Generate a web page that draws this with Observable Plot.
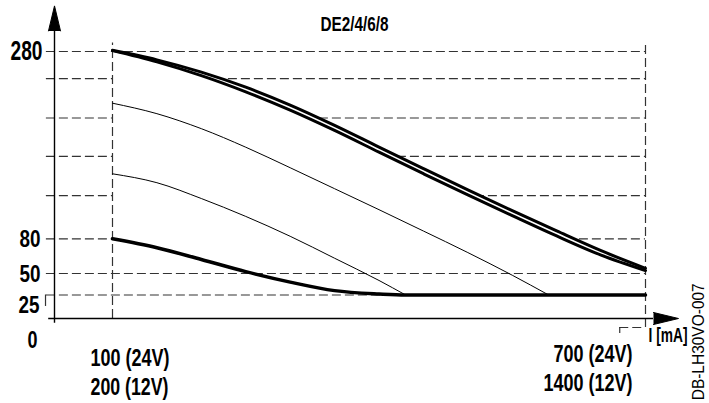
<!DOCTYPE html>
<html><head><meta charset="utf-8">
<script src="https://cdn.jsdelivr.net/npm/d3@7"></script>
<script src="https://cdn.jsdelivr.net/npm/@observablehq/plot@0.6"></script>
<style>body{margin:0;background:#fff}</style>
</head><body><div id="chart"></div>
<script>
const title = "DE2/4/6/8";
const sideNote = "DB-LH30VO-007";
const xAxisLabel = "I [mA]";
const originLabel = "0";
// current (mA, 24V) and curve values
const currentMA = [100,150,200,250,300,350,400,450,500,550,600,650,700];
const topUpper = [281.3,271.1,258,241.9,222.8,201.1,177.9,154.9,132.2,110.1,88.4,69.7,54.5];
const topLower = [280.9,268.9,254.2,236.9,217.4,195.7,172.5,149.5,126.8,104.7,83.0,65.9,52.5];
const midCurrent = [100,150,200,250,300,350,400,450,500,550,591];
const midValues = [224.8,213.6,197.6,177.8,155.9,133.5,111.1,88.3,68.1,48.0,25];
const lowCurrent = [100,150,200,250,300,350,400,430];
const lowValues = [149.4,139.9,123,103.9,82.7,63.2,41.9,25];
const bottomCurrent = [100,150,200,250,300,350,400,430,500,600,700];
const bottomValues = [80,72.3,62.1,51.6,40,30.1,26.2,25,25,25,25];
const gridValues = [280,251,209,168,126,80,50,25];
const yTicks = [280,80,50,25];
const yTickLabels = ["280","80","50","25"];
const xTicks = [100,700];
const xLabels24 = ["100 (24V)","700 (24V)"];
const xLabels12 = ["200 (12V)","1400 (12V)"];

const FONT = "'Liberation Sans',Arial,sans-serif";
const dash = {stroke:"#333", strokeWidth:1.2, strokeDasharray:"9,4"};

const chart = Plot.plot({
  width: 709, height: 403,
  marginLeft: 0, marginRight: 0, marginTop: 0, marginBottom: 0,
  style: {fontFamily: FONT, background: "white", color: "black"},
  x: {type: "linear", domain: [0,100,700], range: [54,112,645], axis: null},
  y: {type: "linear", domain: [0,25,50,80,280], range: [318,294.5,273,238.3,51], axis: null},
  marks: [
    Plot.ruleY(gridValues, {x1: -14, x2: 700, ...dash}),
    Plot.areaY(currentMA, {x: currentMA, y1: 52, y2: topUpper, fill: "white", curve: "monotone-x"}),
    Plot.ruleX([xTicks[0]], {y1: 0, y2: 289, ...dash}),
    Plot.ruleX([xTicks[1]], {y1: -9.6, y2: 289.6, ...dash}),
    Plot.ruleY([-9.6], {x1: 671, x2: 700, ...dash}),
    Plot.ruleX([671], {y1: -9.6, y2: -16, stroke: "#333", strokeWidth: 1.2}),
    Plot.ruleX([-15.5], {y1: 25, y2: 12.8, stroke: "#333", strokeWidth: 1.2}),
    // axes
    Plot.ruleX([0], {y1: -5, y2: 302, stroke: "black", strokeWidth: 1.4}),
    Plot.ruleY([0], {x1: -10, x2: 709, stroke: "black", strokeWidth: 1.4}),
    Plot.vector([0], {x: 0, y: 302, length: 25, r: 6, shape: "spike", anchor: "start", rotate: 0, fill: "black", stroke: "black", strokeWidth: 1}),
    Plot.vector([0], {x: 709, y: 0, length: 25, r: 6, shape: "spike", anchor: "start", rotate: 90, fill: "black", stroke: "black", strokeWidth: 1}),
    // curves
    Plot.line(currentMA, {x: currentMA, y: topUpper, stroke: "black", strokeWidth: 3, curve: "monotone-x"}),
    Plot.line(currentMA, {x: currentMA, y: topLower, stroke: "black", strokeWidth: 3, curve: "monotone-x"}),
    Plot.line(midCurrent, {x: midCurrent, y: midValues, stroke: "black", strokeWidth: 1, curve: "monotone-x"}),
    Plot.line(lowCurrent, {x: lowCurrent, y: lowValues, stroke: "black", strokeWidth: 1, curve: "monotone-x"}),
    Plot.line(bottomCurrent, {x: bottomCurrent, y: bottomValues, stroke: "black", strokeWidth: 3.5, curve: "monotone-x"}),
    // texts
    Plot.text([title], {text: d => d, frameAnchor: "top-left", dx: 320, dy: 16, textAnchor: "start", fontSize: 20, fontWeight: "bold"}),
    Plot.text(yTicks, {filter: d => d === 280, y: d => d, text: d => yTickLabels[yTicks.indexOf(d)], frameAnchor: "left", dx: 42, textAnchor: "end", fontSize: 27, fontWeight: "bold"}),
    Plot.text(yTicks, {filter: d => d === 80 || d === 50, y: d => d, text: d => yTickLabels[yTicks.indexOf(d)], frameAnchor: "left", dx: 40, dy: 1, textAnchor: "end", fontSize: 24, fontWeight: "bold"}),
    Plot.text(yTicks, {filter: d => d === 25, y: d => d, text: d => yTickLabels[yTicks.indexOf(d)], frameAnchor: "left", dx: 39, dy: 10, textAnchor: "end", fontSize: 24, fontWeight: "bold"}),
    Plot.text([originLabel], {x: 0, y: 0, text: d => d, dx: -27, dy: 22, textAnchor: "start", fontSize: 24, fontWeight: "bold"}),
    Plot.text([xTicks[0]], {x: d => d, y: 0, text: () => xLabels24[0], dx: -22, dy: 40, textAnchor: "start", fontSize: 23, fontWeight: "bold"}),
    Plot.text([xTicks[0]], {x: d => d, y: 0, text: () => xLabels12[0], dx: -22, dy: 69, textAnchor: "start", fontSize: 23, fontWeight: "bold"}),
    Plot.text([xTicks[1]], {x: d => d, y: 0, text: () => xLabels24[1], dx: -13, dy: 36, textAnchor: "end", fontSize: 23, fontWeight: "bold"}),
    Plot.text([xTicks[1]], {x: d => d, y: 0, text: () => xLabels12[1], dx: -13, dy: 65, textAnchor: "end", fontSize: 23, fontWeight: "bold"}),
    Plot.text([xAxisLabel], {x: 700, y: 0, text: d => d, dx: 3, dy: 17, textAnchor: "start", fontSize: 21, fontWeight: "bold"}),
    Plot.text([sideNote], {x: 759.7, y: -87, text: d => d, rotate: -90, textAnchor: "start", fontSize: 16})
  ]
});
// condense the bold labels to the narrow lettering of the reference
const textWidths = {"280":32,"80":21,"50":21,"25":21,"0":10,"100 (24V)":79,"200 (12V)":78,"700 (24V)":79,"1400 (12V)":89,"DE2/4/6/8":68,"I [mA]":39,"DB-LH30VO-007":117};
d3.select(chart).selectAll("text").each(function() {
  const w = textWidths[this.textContent.trim()];
  if (w) { this.setAttribute("textLength", w); this.setAttribute("lengthAdjust", "spacingAndGlyphs"); }
});
document.getElementById("chart").appendChild(chart);
</script>
</body></html>
